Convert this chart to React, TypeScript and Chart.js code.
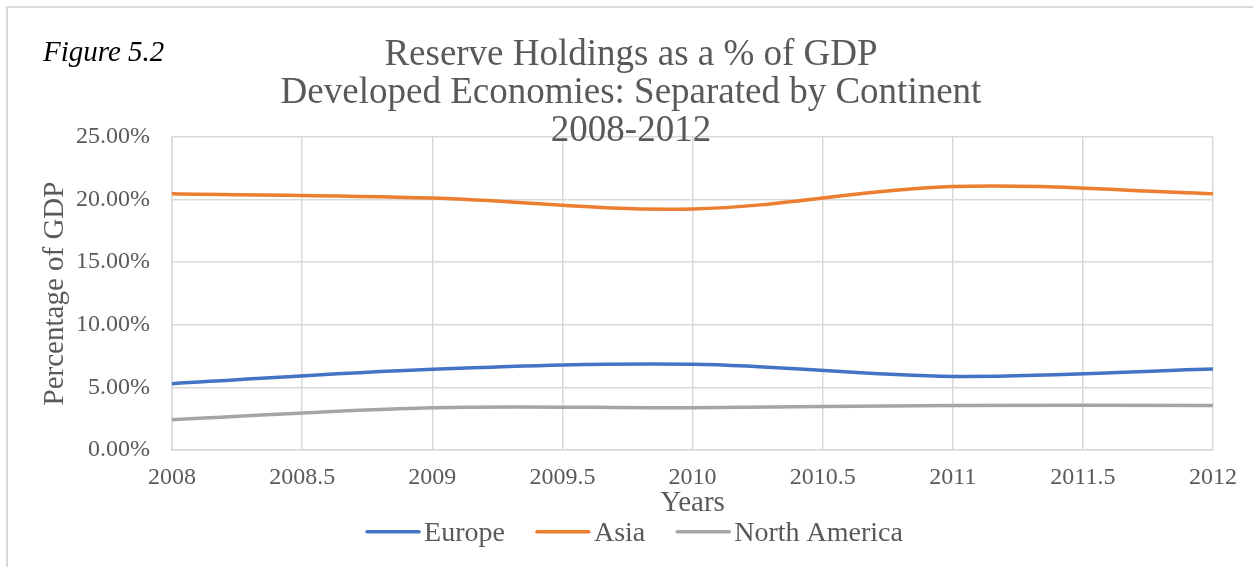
import React, { useEffect, useRef } from "react";
import { Chart, registerables } from "chart.js";

Chart.register(...registerables);

const years = [2008, 2009, 2010, 2011, 2012];
const europe = [5.3, 6.45, 6.85, 5.88, 6.47];
const asia = [20.47, 20.12, 19.25, 21.05, 20.47];
const northAmerica = [2.42, 3.38, 3.38, 3.56, 3.56];

const seriesNames = ["Europe", "Asia", "North America"];
const seriesColors = ["#4472C4", "#ED7D31", "#A5A5A5"];
const titleLines = [
  "Reserve Holdings as a % of GDP",
  "Developed Economies: Separated by Continent",
  "2008-2012",
];
const figureLabel = "Figure 5.2";
const xTitle = "Years";
const yTitle = "Percentage of GDP";

const FONT = '"Liberation Serif", "Times New Roman", serif';
const TEXT = "#595959";
const GRID = "#d9d9d9";

const overlay = {
  id: "overlay",
  afterDraw(chart: any) {
    const ctx = chart.ctx;
    ctx.save();
    ctx.font = `italic 29px ${FONT}`;
    ctx.fillStyle = "#000";
    ctx.textAlign = "left";
    ctx.textBaseline = "alphabetic";
    ctx.fillText(figureLabel, 35, 53);

    ctx.font = `28px ${FONT}`;
    const items = chart.data.datasets.map((ds: any) => ({
      label: ds.label,
      color: ds.borderColor,
      w: ctx.measureText(ds.label).width,
    }));
    const sw = 54, gap = 4, spacing = 31;
    const total =
      items.reduce((s: number, it: any) => s + sw + gap + it.w, 0) +
      spacing * (items.length - 1);
    let x = 626.5 - total / 2;
    const lineY = 523.7;
    const baseY = 533;
    for (const it of items) {
      ctx.strokeStyle = it.color;
      ctx.lineWidth = 3.5;
      ctx.lineCap = "round";
      ctx.beginPath();
      ctx.moveTo(x + 1, lineY);
      ctx.lineTo(x + sw - 1, lineY);
      ctx.stroke();
      ctx.fillStyle = TEXT;
      ctx.fillText(it.label, x + sw + gap, baseY);
      x += sw + gap + it.w + spacing;
    }
    ctx.restore();
  },
};

export default function App() {
  const ref = useRef<HTMLCanvasElement>(null);
  useEffect(() => {
    document.body.style.overflow = "hidden";
    const seriesValues = [europe, asia, northAmerica];
    const chart = new Chart(ref.current as HTMLCanvasElement, {
      type: "line",
      data: {
        datasets: seriesNames.map((name, i) => ({
          label: name,
          data: years.map((yr, j) => ({ x: yr, y: seriesValues[i][j] })),
          borderColor: seriesColors[i],
          backgroundColor: seriesColors[i],
          borderWidth: 3.5,
          pointRadius: 0,
          tension: 0.35,
          fill: false,
        })),
      },
      options: {
        responsive: false,
        animation: false,
        layout: { padding: { left: 41, right: 43, top: 0, bottom: 0 } },
        plugins: {
          legend: { display: false },
          tooltip: { enabled: false },
          title: {
            display: true,
            text: titleLines,
            color: TEXT,
            font: { family: FONT, size: 37, weight: "normal", lineHeight: 38 / 37 },
            padding: { top: 28, bottom: -13 },
          },
        },
        scales: {
          x: {
            type: "linear",
            min: 2008,
            max: 2012,
            ticks: {
              stepSize: 0.5,
              autoSkip: false,
              maxRotation: 0,
              padding: 13,
              color: TEXT,
              font: { family: FONT, size: 24 },
              callback: (v: any) => String(v),
            },
            grid: { color: GRID, lineWidth: 1.5, drawTicks: false },
            border: { color: GRID, width: 1.5 },
            title: {
              display: true,
              text: xTitle,
              color: TEXT,
              font: { family: FONT, size: 29, lineHeight: 1.2 },
              padding: { top: 0, bottom: 53.6 },
            },
            afterFit(s: any) {
              s.height = 124;
            },
          },
          y: {
            min: 0,
            max: 25,
            ticks: {
              stepSize: 5,
              padding: 22,
              color: TEXT,
              font: { family: FONT, size: 24 },
              callback: (v: any) => Number(v).toFixed(2) + "%",
            },
            grid: { color: GRID, lineWidth: 1.5, drawTicks: false },
            border: { color: GRID, width: 1.5 },
            title: {
              display: true,
              text: yTitle,
              color: TEXT,
              font: { family: FONT, size: 29, lineHeight: 1.2 },
              padding: { top: -11.4, bottom: 0 },
            },
            afterFit(s: any) {
              s.width = 123;
            },
          },
        },
      },
      plugins: [overlay],
    } as any);
    return () => chart.destroy();
  }, []);

  return (
    <div
      style={{
        position: "fixed",
        left: 6,
        top: 6,
        width: 1254,
        height: 572,
        borderLeft: "2px solid #d9d9d9",
        borderTop: "2px solid #d9d9d9",
        boxSizing: "border-box",
        background: "#fff",
      }}
    >
      <canvas ref={ref} width={1248} height={566} style={{ display: "block" }} />
    </div>
  );
}
